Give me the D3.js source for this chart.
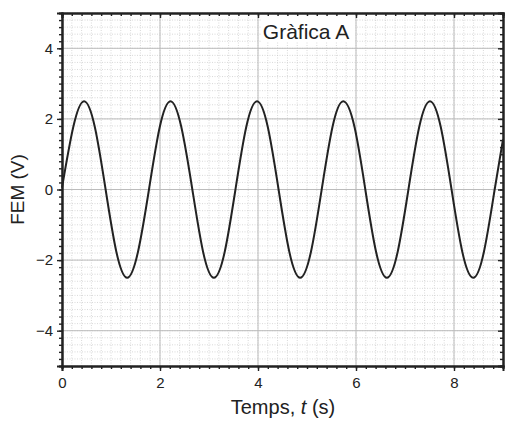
<!DOCTYPE html>
<html>
<head>
<meta charset="utf-8">
<script src="https://cdn.jsdelivr.net/npm/d3@7"></script>
<style>
  body { margin: 0; background: #fff; }
  text { font-family: "Liberation Sans", Arial, sans-serif; fill: #222; }
</style>
</head>
<body>
<svg id="chart" width="507" height="422"></svg>
<script>
// FEM readings (V) off the trace, t in seconds
var tValues = [0, 0.23, 0.45, 0.67, 0.89, 1.11, 1.33, 1.55, 1.775, 1.995,
  2.215, 2.435, 2.66, 2.88, 3.10, 3.32, 3.54, 3.76, 3.98, 4.20,
  4.42, 4.64, 4.86, 5.08, 5.30, 5.52, 5.74, 5.97, 6.19, 6.41,
  6.63, 6.85, 7.07, 7.29, 7.51, 7.73, 7.95, 8.17, 8.39, 8.61,
  8.83, 9];
var femValues = [0.05, 1.77, 2.5, 1.77, 0, -1.77, -2.5, -1.77, 0, 1.77,
  2.5, 1.77, 0, -1.77, -2.5, -1.77, 0, 1.77, 2.5, 1.77,
  0, -1.77, -2.5, -1.77, 0, 1.77, 2.5, 1.77, 0, -1.77,
  -2.5, -1.77, 0, 1.77, 2.5, 1.77, 0, -1.77, -2.5, -1.77,
  0, 1.42];

var xTicks = [0, 2, 4, 6, 8];
var yTicks = [-4, -2, 0, 2, 4];
var xMinor = d3.range(0, 9.001, 0.2);
var yMinor = d3.range(-5, 5.001, 0.2);

var svg = d3.select("#chart");

var x = d3.scaleLinear().domain([0, 9]).range([62, 503]);
var y = d3.scaleLinear().domain([-5, 5]).range([366, 13]);

var fmt = function(d) { return d < 0 ? "\u2212" + Math.abs(d) : "" + d; };

/* grid: dotted minor, solid major */
var grid = svg.append("g");
grid.selectAll("line.vminor")
  .data(xMinor).enter().append("line")
  .attr("x1", function(d) { return x(d); })
  .attr("x2", function(d) { return x(d); })
  .attr("y1", y(-5)).attr("y2", y(5))
  .style("stroke", "#c8c8c8").style("stroke-width", 0.7)
  .style("stroke-dasharray", "1,1.5");
grid.selectAll("line.hminor")
  .data(yMinor).enter().append("line")
  .attr("y1", function(d) { return y(d); })
  .attr("y2", function(d) { return y(d); })
  .attr("x1", x(0)).attr("x2", x(9))
  .style("stroke", "#c8c8c8").style("stroke-width", 0.7)
  .style("stroke-dasharray", "1,1.5");
grid.selectAll("line.vmajor")
  .data(xTicks).enter().append("line")
  .attr("x1", function(d) { return x(d); })
  .attr("x2", function(d) { return x(d); })
  .attr("y1", y(-5)).attr("y2", y(5))
  .style("stroke", "#bcbcbc").style("stroke-width", 1);
grid.selectAll("line.hmajor")
  .data(yTicks).enter().append("line")
  .attr("y1", function(d) { return y(d); })
  .attr("y2", function(d) { return y(d); })
  .attr("x1", x(0)).attr("x2", x(9))
  .style("stroke", "#bcbcbc").style("stroke-width", 1);

/* title box */
svg.append("rect")
  .attr("x", 261).attr("y", 16).attr("width", 94).attr("height", 26)
  .style("fill", "#fff");
svg.append("text")
  .attr("x", 306).attr("y", 39)
  .attr("text-anchor", "middle")
  .style("font-size", "21px")
  .text("Gràfica A");

/* the trace */
var line = d3.line()
  .x(function(d) { return x(d[0]); })
  .y(function(d) { return y(d[1]); })
  .curve(d3.curveNatural);

svg.append("path")
  .datum(d3.zip(tValues, femValues))
  .attr("d", line)
  .style("fill", "none")
  .style("stroke", "#222")
  .style("stroke-width", 2);

/* axes */
function styleAxis(g) {
  g.select(".domain").style("stroke", "#222").style("stroke-width", 2);
  g.selectAll(".tick line").style("stroke", "#222").style("stroke-width", 1.4);
  g.selectAll(".tick text").style("font-size", "15px").style("fill", "#222")
    .style("font-family", "'Liberation Sans', Arial, sans-serif");
}

svg.append("g").attr("transform", "translate(0," + y(-5) + ")")
  .call(d3.axisBottom(x).tickValues(xMinor).tickSize(3).tickFormat(""))
  .call(styleAxis);
svg.append("g").attr("transform", "translate(0," + y(-5) + ")")
  .call(d3.axisBottom(x).tickValues(xTicks).tickSize(5).tickPadding(6).tickFormat(fmt))
  .call(styleAxis);

svg.append("g").attr("transform", "translate(" + x(0) + ",0)")
  .call(d3.axisLeft(y).tickValues(yMinor).tickSize(3).tickFormat(""))
  .call(styleAxis);
svg.append("g").attr("transform", "translate(" + x(0) + ",0)")
  .call(d3.axisLeft(y).tickValues(yTicks).tickSize(5).tickPadding(4).tickFormat(fmt))
  .call(styleAxis);

svg.append("g").attr("transform", "translate(0," + y(5) + ")")
  .call(d3.axisTop(x).tickValues(xMinor).tickSize(-3).tickFormat(""))
  .call(styleAxis);
svg.append("g").attr("transform", "translate(0," + y(5) + ")")
  .call(d3.axisTop(x).tickValues(xTicks).tickSize(-5).tickFormat(""))
  .call(styleAxis);

svg.append("g").attr("transform", "translate(" + x(9) + ",0)")
  .call(d3.axisRight(y).tickValues(yMinor).tickSize(-3).tickFormat(""))
  .call(styleAxis);
svg.append("g").attr("transform", "translate(" + x(9) + ",0)")
  .call(d3.axisRight(y).tickValues(yTicks).tickSize(-5).tickFormat(""))
  .call(styleAxis);

/* axis titles */
var xt = svg.append("text")
  .attr("x", 283).attr("y", 414)
  .attr("text-anchor", "middle")
  .style("font-size", "20px");
xt.append("tspan").text("Temps, ");
xt.append("tspan").style("font-style", "italic").text("t");
xt.append("tspan").text(" (s)");

svg.append("text")
  .attr("transform", "translate(24," + y(0) + ") rotate(-90)")
  .attr("text-anchor", "middle")
  .style("font-size", "19px")
  .text("FEM (V)");
</script>
</body>
</html>
